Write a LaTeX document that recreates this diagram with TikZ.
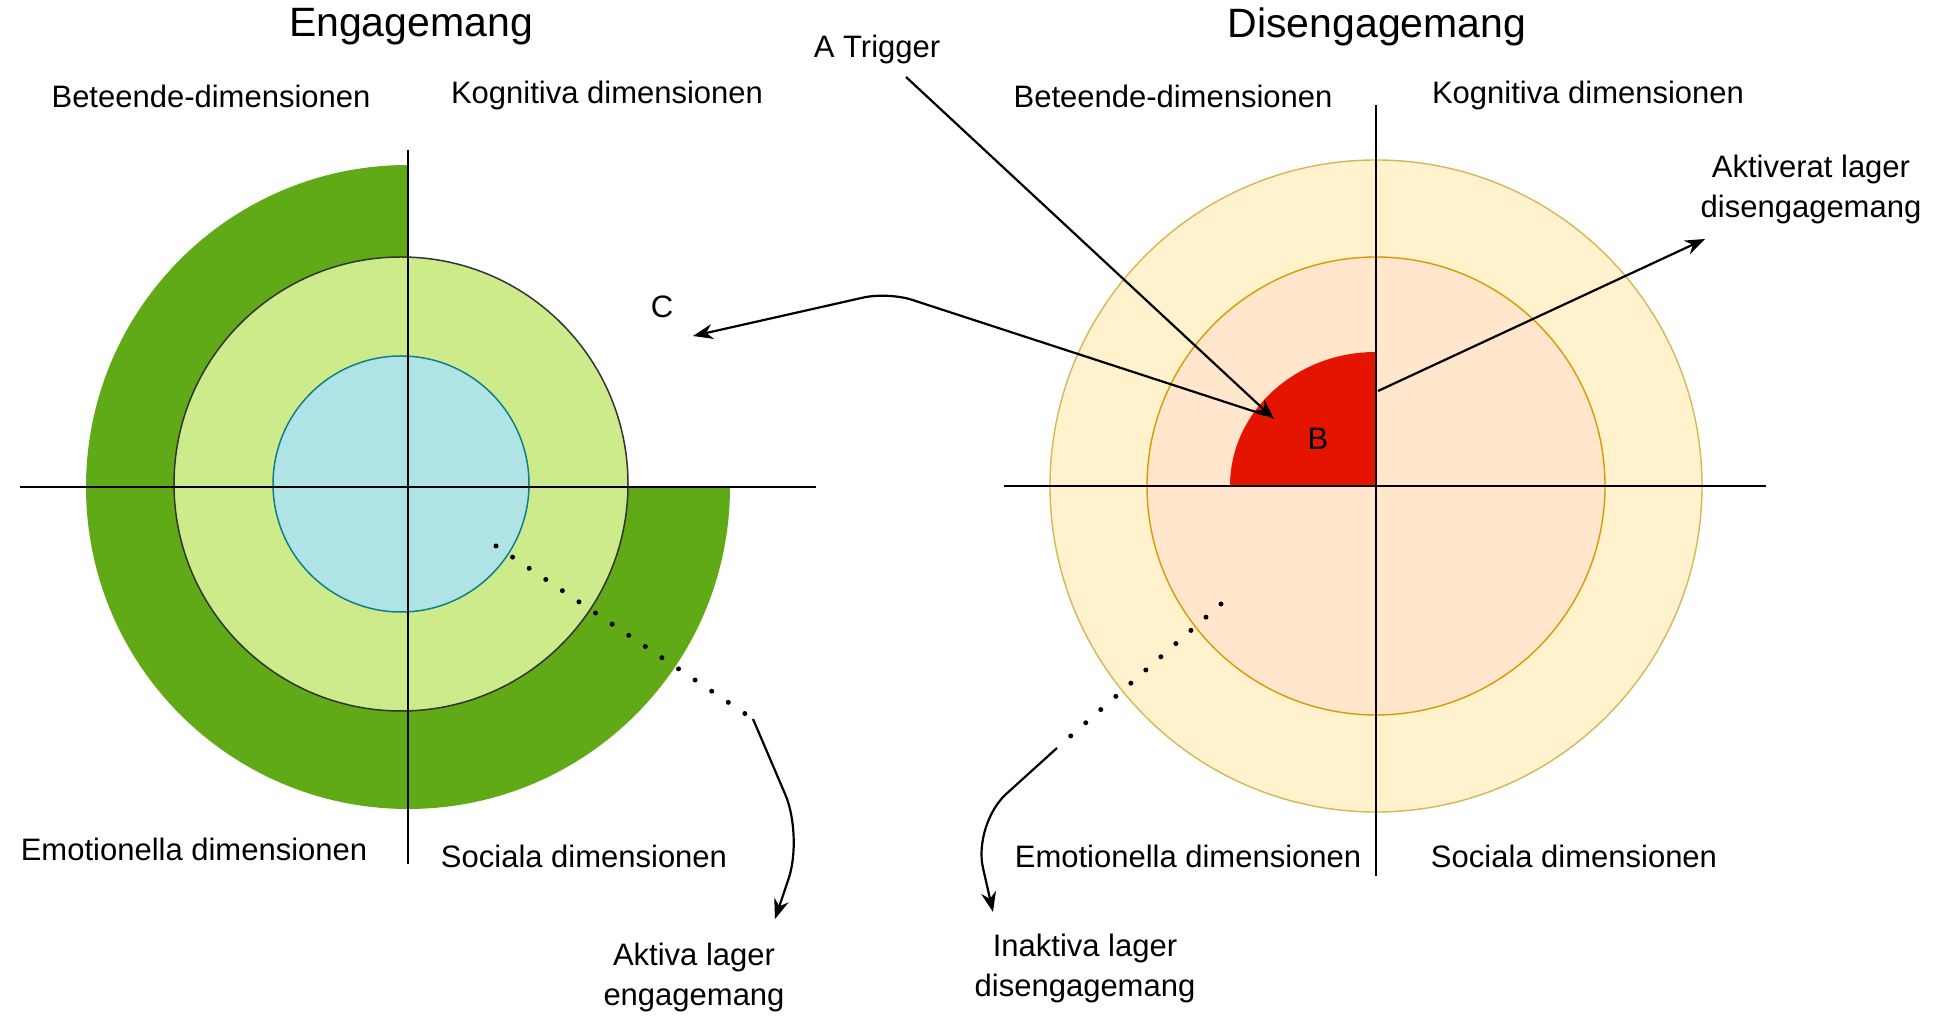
\documentclass[tikz,border=0pt]{standalone}
\usepackage{fontspec}
\setmainfont{Liberation Sans}
\usetikzlibrary{arrows.meta}
\definecolor{ringdark}{HTML}{60A917}
\definecolor{ringlight}{HTML}{CDEB8B}
\definecolor{coreblue}{HTML}{B0E3E6}
\definecolor{coreedge}{HTML}{0E8088}
\definecolor{outeryellow}{HTML}{FFF2CC}
\definecolor{outeredge}{HTML}{D6B656}
\definecolor{innerpeach}{HTML}{FFE6CC}
\definecolor{inneredge}{HTML}{D79B00}
\definecolor{activered}{HTML}{E51400}
\begin{document}
\begin{tikzpicture}
		[x=1pt,y=1pt,
		dimtext/.style={font=\fontsize{31}{40}\selectfont, inner sep=0pt, align=center},
		headtext/.style={font=\fontsize{41}{48}\selectfont, inner sep=0pt},
		axisline/.style={line width=2.6pt},
		pointer/.style={line width=2.2pt, -{Stealth[length=20pt,width=15pt]}},
		dotline/.style={line width=5pt, line cap=round, dash pattern=on 0pt off 20pt}
		]
		\useasboundingbox (0,0) rectangle (1954,1016);
		\coordinate (Lc) at (408,529);
		\coordinate (Lring) at (401,532);
		\coordinate (Rc) at (1376,530);

		\fill[ringdark] (Lc) -- ++(0,322) arc[start angle=90, end angle=360, radius=322] -- cycle;
		\draw[fill=ringlight, line width=1.5pt, draw=black!80] (Lring) circle[radius=227];
		\draw[fill=coreblue, line width=1.5pt, draw=coreedge] (Lring) circle[radius=128];
		\draw[axisline] (408,866) -- (408,152);
		\draw[axisline] (20,529) -- (816,529);

		\draw[fill=outeryellow, line width=1.4pt, draw=outeredge] (Rc) circle[radius=326];
		\draw[fill=innerpeach, line width=1.4pt, draw=inneredge] (Rc) circle[radius=229];
		\fill[activered] (Rc) -- ++(-146,0) arc[start angle=180, end angle=90, x radius=146, y radius=134] -- cycle;
		\draw[axisline] (1376,911) -- (1376,140);
		\draw[axisline] (1004,530) -- (1766,530);

		\node[headtext] (eng) at (411,989) {Engagemang};
		\node[headtext] (diseng) at (1377,989) {Disengagemang};
		\node[dimtext] (lbeh) at (211,920) {Beteende-dimensionen};
		\node[dimtext] (lcog) at (607,920) {Kognitiva dimensionen};
		\node[dimtext] (lemo) at (194,167) {Emotionella dimensionen};
		\node[dimtext] (lsoc) at (584,160) {Sociala dimensionen};
		\node[dimtext] (rbeh) at (1173,920) {Beteende-dimensionen};
		\node[dimtext] (rcog) at (1588,920) {Kognitiva dimensionen};
		\node[dimtext] (remo) at (1188,160) {Emotionella dimensionen};
		\node[dimtext] (rsoc) at (1574,160) {Sociala dimensionen};
		\node[dimtext] (aktiva) at (694,39) {Aktiva lager\\engagemang};
		\node[dimtext] (inaktiva) at (1085,48) {Inaktiva lager\\disengagemang};
		\node[dimtext] (aktiverat) at (1811,827) {Aktiverat lager\\disengagemang};
		\node[dimtext] (trigger) at (877,966) {A Trigger};
		\node[dimtext] (cnode) at (662,709) {C};
		\node[dimtext] (bnode) at (1318,577) {B};

		\coordinate (trgstart) at (906,939);
		\coordinate (bhit) at (1274,597);
		\coordinate (bfrom) at (1265,601);
		\coordinate (cbend) at (888,724);
		\coordinate (ctip) at (693,680);
		\coordinate (redtop) at (1378,625);
		\coordinate (akttip) at (1705,777);
		\coordinate (ldotstart) at (496,470);
		\coordinate (ldotend) at (753,297);
		\coordinate (lbend) at (803,180);
		\coordinate (ltip) at (775,97);
		\coordinate (rdotstart) at (1221,412);
		\coordinate (rdotend) at (1057,268);
		\coordinate (rbend) at (973,192);
		\coordinate (rtip) at (993,104);

		\draw[pointer] (trgstart) -- (bhit);
		\draw[pointer, rounded corners=25pt] (bfrom) -- (cbend) -- (ctip);
		\draw[pointer] (redtop) -- (akttip);
		\draw[dotline] (ldotstart) -- (ldotend);
		\draw[pointer, rounded corners=45pt] (ldotend) -- (lbend) -- (ltip);
		\draw[dotline] (rdotstart) -- (rdotend);
		\draw[pointer, rounded corners=45pt] (rdotend) -- (rbend) -- (rtip);
	\end{tikzpicture}
\end{document}
